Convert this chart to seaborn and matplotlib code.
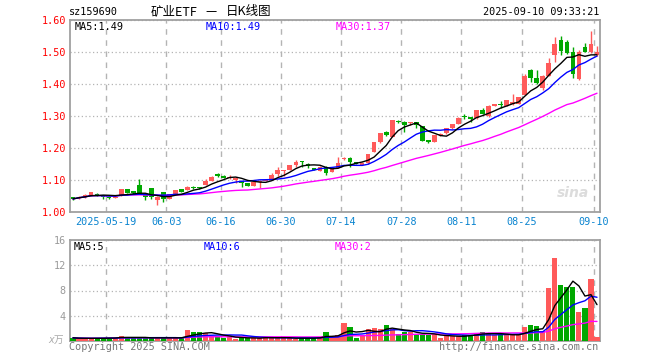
import numpy as np
import pandas as pd
import matplotlib
matplotlib.use("Agg")
import matplotlib.pyplot as plt
import seaborn as sns

# ---------------- data ----------------
symbol = "sz159690"
title_parts = ["矿业ETF", "—", "日K线图"]
timestamp = "2025-09-10 09:33:21"

opens = [1.046, 1.044, 1.048, 1.053, 1.057, 1.052, 1.048, 1.045, 1.052, 1.071,
         1.065, 1.083, 1.053, 1.074, 1.037, 1.063, 1.041, 1.056, 1.071, 1.069,
         1.077, 1.077, 1.084, 1.097, 1.116, 1.113, 1.105, 1.100, 1.097, 1.090,
         1.082, 1.093, 1.097, 1.103, 1.118, 1.127, 1.132, 1.147, 1.158, 1.149,
         1.137, 1.128, 1.142, 1.126, 1.139, 1.166, 1.170, 1.155, 1.148, 1.152,
         1.187, 1.218, 1.250, 1.235, 1.283, 1.281, 1.277, 1.281, 1.268, 1.225,
         1.220, 1.241, 1.246, 1.261, 1.276, 1.299, 1.296, 1.293, 1.320, 1.300,
         1.331, 1.338, 1.331, 1.339, 1.339, 1.366, 1.444, 1.418, 1.386, 1.425,
         1.491, 1.537, 1.530, 1.499, 1.416, 1.515, 1.499, 1.491]
closes = [1.041, 1.048, 1.053, 1.062, 1.053, 1.048, 1.045, 1.048, 1.071, 1.060,
          1.058, 1.056, 1.048, 1.048, 1.048, 1.041, 1.056, 1.069, 1.063, 1.078,
          1.075, 1.075, 1.098, 1.110, 1.114, 1.107, 1.110, 1.105, 1.090, 1.082,
          1.093, 1.097, 1.101, 1.116, 1.130, 1.128, 1.147, 1.157, 1.156, 1.145,
          1.131, 1.142, 1.123, 1.134, 1.153, 1.168, 1.155, 1.151, 1.154, 1.181,
          1.218, 1.246, 1.240, 1.287, 1.281, 1.273, 1.279, 1.271, 1.223, 1.218,
          1.240, 1.243, 1.261, 1.275, 1.295, 1.297, 1.290, 1.318, 1.306, 1.331,
          1.336, 1.333, 1.350, 1.342, 1.358, 1.425, 1.418, 1.404, 1.425, 1.465,
          1.525, 1.503, 1.498, 1.431, 1.501, 1.500, 1.525, 1.499]
highs = [1.048, 1.050, 1.057, 1.064, 1.060, 1.054, 1.049, 1.050, 1.072, 1.072,
         1.066, 1.102, 1.055, 1.075, 1.049, 1.064, 1.057, 1.070, 1.072, 1.081,
         1.080, 1.079, 1.104, 1.112, 1.121, 1.115, 1.116, 1.109, 1.098, 1.091,
         1.094, 1.099, 1.103, 1.123, 1.142, 1.130, 1.148, 1.163, 1.159, 1.152,
         1.138, 1.143, 1.143, 1.135, 1.173, 1.171, 1.171, 1.157, 1.156, 1.182,
         1.219, 1.247, 1.254, 1.288, 1.289, 1.283, 1.281, 1.282, 1.269, 1.226,
         1.241, 1.247, 1.262, 1.276, 1.297, 1.305, 1.297, 1.319, 1.325, 1.333,
         1.338, 1.346, 1.351, 1.369, 1.359, 1.430, 1.446, 1.445, 1.427, 1.480,
         1.548, 1.550, 1.538, 1.515, 1.505, 1.528, 1.566, 1.520]
lows = [1.038, 1.042, 1.045, 1.051, 1.050, 1.041, 1.040, 1.043, 1.051, 1.059,
        1.056, 1.055, 1.036, 1.040, 1.022, 1.032, 1.040, 1.055, 1.062, 1.068,
        1.072, 1.073, 1.083, 1.096, 1.108, 1.106, 1.104, 1.092, 1.079, 1.080,
        1.081, 1.074, 1.096, 1.102, 1.114, 1.114, 1.131, 1.142, 1.142, 1.137,
        1.130, 1.127, 1.116, 1.125, 1.138, 1.162, 1.142, 1.149, 1.147, 1.151,
        1.186, 1.217, 1.236, 1.234, 1.278, 1.250, 1.272, 1.262, 1.221, 1.216,
        1.219, 1.239, 1.245, 1.260, 1.275, 1.290, 1.280, 1.292, 1.305, 1.298,
        1.330, 1.326, 1.330, 1.335, 1.338, 1.365, 1.405, 1.400, 1.380, 1.424,
        1.470, 1.490, 1.494, 1.420, 1.414, 1.499, 1.498, 1.488]
volumes = [0.5, 0.4, 0.4, 0.4, 0.45, 0.5, 0.5, 0.5, 0.85, 0.5,
           0.5, 0.5, 0.5, 0.5, 0.5, 0.5, 0.5, 0.5, 0.5, 1.7,
           1.5, 1.4, 1.2, 0.8, 0.8, 0.5, 0.7, 0.3, 0.5, 0.5,
           0.45, 0.5, 0.65, 0.5, 0.5, 0.5, 0.45, 0.3, 0.5, 0.5,
           0.5, 0.65, 1.4, 0.65, 0.9, 2.85, 2.2, 0.5, 1.0, 1.9,
           2.1, 1.85, 2.5, 1.85, 1.15, 1.4, 1.4, 1.15, 1.05, 1.0,
           1.05, 0.5, 0.75, 0.75, 0.75, 1.0, 1.0, 1.3, 1.5, 1.05,
           1.0, 1.0, 0.9, 1.0, 1.0, 2.2, 2.6, 2.3, 1.6, 8.4,
           13.2, 8.8, 8.5, 8.5, 4.6, 5.2, 9.9, 0.6]

price_legend_values = ["1.49", "1.49", "1.37"]
vol_legend_values = ["5", "6", "2"]

holidays = ["2025-06-02"]
tick_dates = ["2025-05-19", "2025-06-03", "2025-06-16", "2025-06-30", "2025-07-14",
              "2025-07-28", "2025-08-11", "2025-08-25", "2025-09-10"]
tick_texts = ["2025-05-19", "06-03", "06-16", "06-30", "07-14",
              "07-28", "08-11", "08-25", "09-10"]
price_ticks = [1.00, 1.10, 1.20, 1.30, 1.40, 1.50, 1.60]
vol_ticks = [4, 8, 12, 16]

# ---------------- frame ----------------
dates = [d for d in pd.bdate_range("2025-05-09", "2025-09-10")
         if d.strftime("%Y-%m-%d") not in holidays]
df = pd.DataFrame({"date": dates[:len(closes)], "open": opens, "close": closes,
                   "high": highs, "low": lows, "vol": volumes})
df["x"] = np.arange(len(df))
for w in (5, 10, 30):
    df[f"ma{w}"] = df["close"].rolling(w, min_periods=1).mean()
    df[f"vma{w}"] = df["vol"].rolling(w, min_periods=1).mean()
date_str = df["date"].dt.strftime("%Y-%m-%d").tolist()
tick_pos = [date_str.index(d) - 0.5 for d in tick_dates]

RED = "#ff5a5a"
GREEN = "#00a800"
GRID = "#b4b4b4"
FRAME = "#a0a0a0"
BLUE_TXT = "#0a84d0"

sns.set_theme(style="white")
plt.rcParams["font.family"] = ["DejaVu Sans Mono", "Noto Sans CJK SC"]

W, H = 660, 360
fig = plt.figure(figsize=(W / 100, H / 100), dpi=100)
fig.patch.set_facecolor("white")


def box(l, t, r, b):
    return [l / W, 1 - b / H, (r - l) / W, (b - t) / H]


ax_p = fig.add_axes(box(70, 20, 600, 212))
ax_v = fig.add_axes(box(70, 240, 600, 341))

up = df["close"] >= df["open"]
colors = np.where(up, RED, GREEN)

# ---- price panel ----
ax_p.vlines(df["x"], df["low"], df["high"], colors=colors, lw=1, zorder=3)
body_h = (df["close"] - df["open"]).abs().clip(lower=0.0032)
body_b = df[["open", "close"]].min(axis=1)
ax_p.bar(df["x"], body_h, bottom=body_b, width=0.78, color=colors, lw=0, zorder=4)
sns.lineplot(data=df, x="x", y="ma30", ax=ax_p, color="#ff00ff", lw=1, zorder=5)
sns.lineplot(data=df, x="x", y="ma10", ax=ax_p, color="#0000ff", lw=1, zorder=5)
sns.lineplot(data=df, x="x", y="ma5", ax=ax_p, color="black", lw=1, zorder=6)

ax_p.set_xlim(-0.5, len(df) - 0.5)
ax_p.set_ylim(1.0, 1.6)
ax_p.set_yticks(price_ticks)
ax_p.set_yticklabels([f"{v:.2f}" for v in price_ticks], color="#ff0000", fontsize=7.3)
ax_p.set_xticks(tick_pos)
ax_p.set_xticklabels(tick_texts, color=BLUE_TXT, fontsize=7.3)
ax_p.tick_params(axis="both", length=0, pad=3)
ax_p.tick_params(axis="x", pad=3.5)

# ---- volume panel ----
ax_v.bar(df["x"], df["vol"], width=0.85, color=colors, lw=0, zorder=3)
sns.lineplot(data=df, x="x", y="vma30", ax=ax_v, color="#ff00ff", lw=1, zorder=5)
sns.lineplot(data=df, x="x", y="vma10", ax=ax_v, color="#0000ff", lw=1, zorder=5)
sns.lineplot(data=df, x="x", y="vma5", ax=ax_v, color="black", lw=1, zorder=6)
ax_v.set_xlim(-0.5, len(df) - 0.5)
ax_v.set_ylim(0, 16)
ax_v.set_yticks(vol_ticks)
ax_v.set_yticklabels([str(v) for v in vol_ticks], color="#9a9a9a", fontsize=7.3)
ax_v.set_xticks(tick_pos)
ax_v.set_xticklabels([])
ax_v.tick_params(axis="both", length=0, pad=3)

for ax in (ax_p, ax_v):
    ax.set_xlabel("")
    ax.set_ylabel("")
    ax.set_facecolor("white")
    ax.grid(axis="y", linestyle=(0, (1, 2)), color=GRID, lw=0.9, zorder=0)
    ax.grid(axis="x", linestyle=(0, (4, 4)), color=GRID, lw=1.0, zorder=0)
    for s in ax.spines.values():
        s.set_color(FRAME)
        s.set_linewidth(1.3)
        s.set_visible(True)
    ax.set_axisbelow(True)

# ---- texts ----
def ftext(x, y, s, **kw):
    kw.setdefault("fontsize", 7.3)
    kw.setdefault("va", "center")
    fig.text(x / W, 1 - y / H, s, **kw)

CJK = ["Noto Sans CJK SC", "DejaVu Sans"]
ftext(69, 12, symbol, color="black")
ftext(151, 12, title_parts[0], color="black", fontsize=9, family=CJK)
ftext(211, 12, title_parts[1], color="black", fontsize=9, family=CJK, ha="center")
ftext(226, 12, title_parts[2], color="black", fontsize=9, family=CJK)
ftext(599, 12, timestamp, color="black", ha="right")

ftext(75, 27, f"MA5:{price_legend_values[0]}", color="black")
ftext(206, 27, f"MA10:{price_legend_values[1]}", color="#0000ff")
ftext(336, 27, f"MA30:{price_legend_values[2]}", color="#ff00ff")

ftext(74, 247, f"MA5:{vol_legend_values[0]}", color="black")
ftext(204, 247, f"MA10:{vol_legend_values[1]}", color="#0000ff")
ftext(335, 247, f"MA30:{vol_legend_values[2]}", color="#ff00ff")

ftext(64, 340, "x万", color="#aaaaaa", ha="right", fontsize=7,
      family=["DejaVu Sans Mono", "Noto Sans CJK SC"], style="italic")
ftext(69, 347, "Copyright 2025 SINA.COM", color="#777777")
ftext(598, 347, "http://finance.sina.com.cn", color="#777777", ha="right")
ftext(573, 193, "sina", color="#dcdcdc", fontsize=10, style="italic",
      weight="bold", family="DejaVu Sans", ha="center")

fig.savefig("out.png", dpi=100, facecolor="white")
